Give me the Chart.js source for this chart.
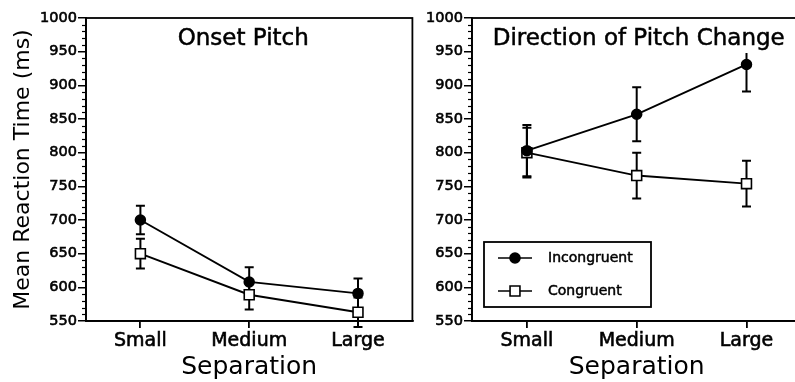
<!DOCTYPE html>
<html><head><meta charset="utf-8">
<script src="https://cdn.jsdelivr.net/npm/chart.js@4/dist/chart.umd.min.js"></script>
<style>
html,body{margin:0;padding:0;background:#fff;overflow:hidden;}
#wrap{position:relative;width:795px;height:382px;overflow:hidden;background:#fff;}
canvas{position:absolute;top:0;}
#c1{left:0;}
#c2{left:420px;}
</style></head><body>
<div id="wrap"><canvas id="c1" width="421" height="382"></canvas><canvas id="c2" width="390" height="382"></canvas></div>
<script>
const categories = ['Small', 'Medium', 'Large'];
const yTickValues = [550, 600, 650, 700, 750, 800, 850, 900, 950, 1000];
const seriesNames = ['Incongruent', 'Congruent'];
const panelTitles = ['Onset Pitch', 'Direction of Pitch Change'];

const onsetIncongruent = [700, 608, 591];
const onsetIncongruentErr = [21, 22, 22];
const onsetCongruent = [650, 589, 563];
const onsetCongruentErr = [22, 22, 22];

const directionIncongruent = [803, 857, 931];
const directionIncongruentErr = [38, 40, 40];
const directionCongruent = [800, 766, 754];
const directionCongruentErr = [37, 34, 34];

const FONT = "'DejaVu Sans', sans-serif";

const frameAndExtras = {
  id: 'frameAndExtras',
  beforeDatasetsDraw(chart, args, opts) {
    const ctx = chart.ctx, y = chart.scales.y, x = chart.scales.x;
    const a = chart.chartArea;
    ctx.save();
    ctx.strokeStyle = '#000'; ctx.lineWidth = 1.8;
    ctx.strokeRect(a.left, a.top, a.right - a.left, a.bottom - a.top);
    ctx.lineWidth = 1.2;
    for (let v = y.min; v <= y.max; v += 10) {
      if (v % 50 === 0) continue;
      const py = Math.round(y.getPixelForValue(v)) + 0.5;
      ctx.beginPath(); ctx.moveTo(a.left - 4, py); ctx.lineTo(a.left, py); ctx.stroke();
    }
    ctx.lineWidth = 2;
    chart.data.datasets.forEach((ds) => {
      ds.data.forEach((v, i) => {
        const e = ds.errors[i];
        const px = x.getPixelForValue(i);
        const pt = y.getPixelForValue(v + e), pb = y.getPixelForValue(v - e);
        ctx.beginPath();
        ctx.moveTo(px, pt); ctx.lineTo(px, pb);
        ctx.moveTo(px - 4.5, pt); ctx.lineTo(px + 4.5, pt);
        ctx.moveTo(px - 4.5, pb); ctx.lineTo(px + 4.5, pb);
        ctx.stroke();
      });
    });
    ctx.restore();
  },
  afterDatasetsDraw(chart, args, opts) {
    const ctx = chart.ctx, a = chart.chartArea;
    ctx.save();
    ctx.font = '23px ' + FONT;
    ctx.textAlign = 'center'; ctx.textBaseline = 'middle';
    const cx = (a.left + a.right) / 2 + (opts.titleDx || 0);
    const w = ctx.measureText(opts.title).width;
    ctx.fillStyle = '#fff';
    ctx.fillRect(cx - w / 2 - 2, a.top + 9, w + 4, 26);
    ctx.fillStyle = '#000'; ctx.strokeStyle = '#000'; ctx.lineWidth = 0.5;
    ctx.fillText(opts.title, cx, a.top + 21);
    ctx.strokeText(opts.title, cx, a.top + 21);
    if (opts.legend) {
      const L = opts.legend;
      ctx.fillStyle = '#fff';
      ctx.fillRect(L.x, L.y, L.w, L.h);
      ctx.strokeStyle = '#000'; ctx.lineWidth = 1.8;
      ctx.strokeRect(L.x, L.y, L.w, L.h);
      ctx.font = '14px ' + FONT;
      ctx.textAlign = 'left';
      chart.data.datasets.forEach((ds, i) => {
        const yy = L.y + 16 + i * 33;
        ctx.strokeStyle = '#000'; ctx.lineWidth = 1.6;
        ctx.beginPath(); ctx.moveTo(L.x + 14, yy); ctx.lineTo(L.x + 48, yy); ctx.stroke();
        ctx.fillStyle = ds.pointBackgroundColor;
        ctx.beginPath();
        if (ds.pointStyle === 'circle') { ctx.arc(L.x + 31, yy, ds.pointRadius, 0, Math.PI * 2); }
        else { const s = Math.SQRT1_2 * ds.pointRadius; ctx.rect(L.x + 31 - s, yy - s, 2 * s, 2 * s); }
        ctx.fill(); ctx.stroke();
        ctx.fillStyle = '#000'; ctx.lineWidth = 0.5;
        ctx.fillText(ds.label, L.x + 64, yy);
        ctx.strokeText(ds.label, L.x + 64, yy);
      });
    }
    ctx.restore();
  }
};

function makeDatasets(inc, incErr, con, conErr) {
  return [
    {label: seriesNames[0], data: inc, errors: incErr, borderColor: '#000', borderWidth: 1.9,
     pointStyle: 'circle', pointRadius: 5, pointBackgroundColor: '#000', pointBorderColor: '#000',
     pointBorderWidth: 1.5, tension: 0, clip: false},
    {label: seriesNames[1], data: con, errors: conErr, borderColor: '#000', borderWidth: 1.9,
     pointStyle: 'rect', pointRadius: 7, pointBackgroundColor: '#fff', pointBorderColor: '#000',
     pointBorderWidth: 1.6, tension: 0, clip: false}
  ];
}

function makeOptions(cfg) {
  return {
    responsive: false, animation: false, devicePixelRatio: 1,
    layout: {padding: {top: 18, bottom: 0, left: 0, right: cfg.padRight}},
    plugins: {legend: {display: false}, tooltip: {enabled: false},
      frameAndExtras: {title: cfg.title, legend: cfg.legend, titleDx: cfg.titleDx || 0}},
    scales: {
      x: {type: 'category', offset: true,
        grid: {offset: false, drawOnChartArea: false, drawTicks: true, tickLength: 7, color: '#000', lineWidth: 1.8},
        border: {display: true, color: '#000', width: 1.8},
        ticks: {color: '#000', font: {family: FONT, size: 19}, padding: 2, maxRotation: 0,
          textStrokeColor: '#000', textStrokeWidth: 0.6},
        title: {display: true, text: 'Separation', color: '#000', font: {family: FONT, size: 25}, padding: {top: 0, bottom: 0}},
        afterFit: (s) => { s.height = 61; }
      },
      y: {min: 550, max: 1000,
        afterBuildTicks: (s) => { s.ticks = yTickValues.map(v => ({value: v})); },
        grid: {drawOnChartArea: false, drawTicks: true, tickLength: 8, color: '#000', lineWidth: 1.5},
        border: {display: true, color: '#000', width: 1.8},
        ticks: {color: '#000', font: {family: FONT, size: 14.5}, padding: 1,
          textStrokeColor: '#000', textStrokeWidth: 0.6,
          callback: (v) => String(v)},
        title: {display: cfg.yTitle, text: 'Mean Reaction Time (ms)', color: '#000', font: {family: FONT, size: 22}, padding: {top: 10, bottom: 0}},
        afterFit: (s) => { s.width = cfg.yWidth; }
      }
    }
  };
}

new Chart(document.getElementById('c1'), {
  type: 'line',
  data: {labels: categories, datasets: makeDatasets(onsetIncongruent, onsetIncongruentErr, onsetCongruent, onsetCongruentErr)},
  options: makeOptions({title: panelTitles[0], legend: null, yTitle: true, yWidth: 86, padRight: 2, titleDx: -6}),
  plugins: [frameAndExtras]
});

new Chart(document.getElementById('c2'), {
  type: 'line',
  data: {labels: categories, datasets: makeDatasets(directionIncongruent, directionIncongruentErr, directionCongruent, directionCongruentErr)},
  options: makeOptions({title: panelTitles[1], legend: {x: 64, y: 242, w: 167, h: 65}, yTitle: false, yWidth: 52, padRight: 5, titleDx: 2}),
  plugins: [frameAndExtras]
});
</script>
</body></html>
